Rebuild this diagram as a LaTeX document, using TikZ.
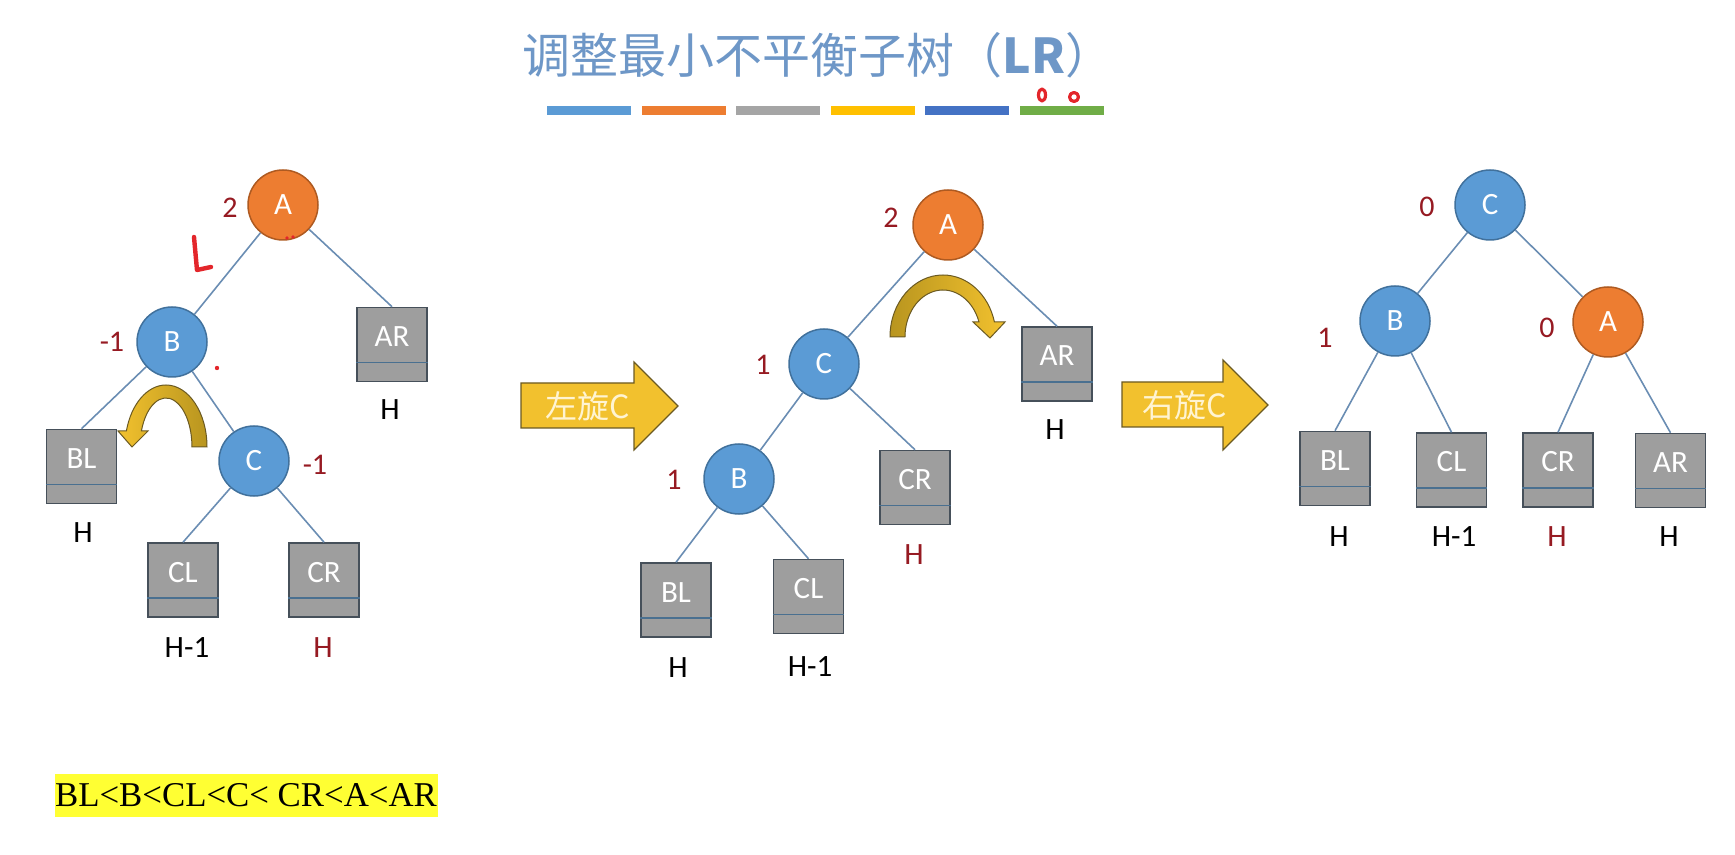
\documentclass[tikz,border=0pt]{standalone}
\usepackage{fontspec}
\usepackage{tikz}
\usetikzlibrary{calc}
\setmainfont{Carlito}
\newfontfamily\cjk{Noto Sans CJK SC}
\newfontfamily\timesf{Liberation Serif}

\definecolor{knotblue}{HTML}{5B9BD5}
\definecolor{knotline}{HTML}{41719C}
\definecolor{rootorange}{HTML}{ED7D31}
\definecolor{rootline}{HTML}{AE5A21}
\definecolor{boxgray}{HTML}{9E9E9E}
\definecolor{boxline}{HTML}{46505A}
\definecolor{dividercol}{HTML}{4A7090}
\definecolor{balred}{HTML}{961A22}
\definecolor{branchcol}{HTML}{6A8DB3}
\definecolor{arrowgold}{HTML}{F2C12E}
\definecolor{arrowdark}{HTML}{B8951F}
\definecolor{arrowline}{HTML}{6B5A22}
\definecolor{arrowtextcol}{HTML}{FFF4D2}
\definecolor{titleblue}{HTML}{6E97C7}
\definecolor{inkred}{HTML}{E3262B}
\definecolor{marker}{HTML}{FFFF33}
\definecolor{barA}{HTML}{5B9BD5}
\definecolor{barB}{HTML}{ED7D31}
\definecolor{barC}{HTML}{A5A5A5}
\definecolor{barD}{HTML}{FFC000}
\definecolor{barE}{HTML}{4472C4}
\definecolor{barF}{HTML}{70AD47}

\begin{document}
\begin{tikzpicture}[x=0.5pt,y=0.5pt,yscale=-1,
  knot/.style={circle,draw=knotline,fill=knotblue,line width=0.75pt,minimum size=35pt,inner sep=0pt,text=white,font=\fontsize{15.5}{18}\selectfont},
  rootknot/.style={knot,draw=rootline,fill=rootorange},
  subtree/.style={rectangle,draw=boxline,fill=boxgray,line width=0.75pt,minimum width=35pt,minimum height=37pt,inner sep=0pt,text=white,text height=10pt,text depth=8pt,font=\fontsize{15.5}{18}\selectfont},
  divider/.style={draw=dividercol,line width=0.75pt},
  bal/.style={inner sep=0pt,text=balred,font=\fontsize{15}{18}\selectfont},
  hgt/.style={inner sep=0pt,font=\fontsize{15.5}{18}\selectfont},
  hgtred/.style={hgt,text=balred},
  branch/.style={draw=branchcol,line width=0.8pt},
  turn/.style={draw=arrowline,line width=0.5pt},
  bigarrow/.style={fill=arrowgold,draw=arrowline,line width=0.6pt},
  arrowtext/.style={inner sep=0pt,text=arrowtextcol,font=\cjk\fontsize{16}{18}\selectfont},
  scribble/.style={draw=inkred,line width=2.2pt,line cap=round,line join=round}]
\useasboundingbox (0,0) rectangle (1735,855);

% Title
\node[inner sep=0pt,text=titleblue,font=\cjk\fontsize{24}{28}\selectfont] (title) at (818,55) {调整最小不平衡子树（{\bfseries LR}）};
\foreach \c [count=\i from 0] in {barA,barB,barC,barD,barE,barF}
  \fill[\c] (547+94.5*\i,106) rectangle ++(84,9);
\draw[scribble,line width=1.6pt] (1042,95) ellipse [x radius=3.5,y radius=6];
\draw[scribble,line width=1.6pt] (1074,97) ellipse [x radius=4.5,y radius=4.5];

%Tree 1 : before rotation
\node[rootknot] (A1) at (283,205) {A};
\node[knot] (B1) at (172,342) {B};
\node[knot] (C1) at (254,461) {C};
\node[subtree] (AR1) at (392,344.5) {AR};
\node[subtree] (BL1) at (81.5,466.5) {BL};
\node[subtree] (CL1) at (183,580) {CL};
\node[subtree] (CR1) at (324,580) {CR};
\draw[branch] (A1) -- (B1);
\draw[branch] (A1) -- (AR1.north);
\draw[branch] (B1) -- (BL1.north);
\draw[branch] (B1) -- (C1);
\draw[branch] (C1) -- (CL1.north);
\draw[branch] (C1) -- (CR1.north);
% Text Node
\node[bal] (fA1) at (230,208) {2};
\node[bal] (fB1) at (112,342) {-1};
\node[bal] (fC1) at (315,465) {-1};
\node[hgt] (hAR1) at (390,410) {H};
\node[hgt] (hBL1) at (83,533) {H};
\node[hgt] (hCL1) at (187,648) {H-1};
\node[hgtred] (hCR1) at (323,648) {H};
%Shape: curved arrow
\draw[turn,left color=arrowgold,right color=arrowdark] (207,447) arc[start angle=0,end angle=-165,x radius=41,y radius=62]
  -- (118,431) -- (132,447) -- (148,431) -- (141.4,431)
  arc[start angle=-160.94,end angle=0,x radius=26,y radius=49] -- cycle;
% marks
\draw[scribble] (194,237) -- (197,270) -- (211,267);
\fill[inkred] (287,238) circle (1.8) (293,237) circle (1.8) (217,368) circle (2.2);

%Arrow 1
\draw[bigarrow] (521,383) -- (634,383) -- (634,362) -- (678,406) -- (634,450) -- (634,428) -- (521,428) -- cycle;
\node[arrowtext] (rotL) at (588,406) {左旋C};

%Tree 2 : after left rotation
\node[rootknot] (A2) at (948,225) {A};
\node[knot] (C2) at (824,364) {C};
\node[knot] (B2) at (739,479) {B};
\node[subtree] (AR2) at (1057,364) {AR};
\node[subtree] (CR2) at (915,487.5) {CR};
\node[subtree] (BL2) at (676,600) {BL};
\node[subtree] (CL2) at (808.5,596.5) {CL};
\draw[branch] (A2) -- (C2);
\draw[branch] (A2) -- (AR2.north);
\draw[branch] (C2) -- (B2);
\draw[branch] (C2) -- (CR2.north);
\draw[branch] (B2) -- (BL2.north);
\draw[branch] (B2) -- (CL2.north);
% Text Node
\node[bal] (fA2) at (891,218) {2};
\node[bal] (fC2) at (763,365) {1};
\node[bal] (fB2) at (674,480) {1};
\node[hgt] (hAR2) at (1055,430) {H};
\node[hgtred] (hCR2) at (914,555) {H};
\node[hgt] (hBL2) at (678,668) {H};
\node[hgt] (hCL2) at (810,667) {H-1};
%Shape: curved arrow
\draw[turn,left color=arrowdark,right color=arrowgold] (890,337) arc[start angle=-180,end angle=-14,x radius=53,y radius=62]
  -- (1005,322) -- (990,338) -- (973,322) -- (979,322)
  arc[start angle=-18.6,end angle=-180,x radius=38,y radius=47] -- cycle;

%Arrow 2
\draw[bigarrow] (1122,382) -- (1223,382) -- (1223,360) -- (1268,405) -- (1223,450) -- (1223,427) -- (1122,427) -- cycle;
\node[arrowtext] (rotR) at (1185,405) {右旋C};

%Tree 3 : after right rotation
\node[knot] (C3) at (1490,205) {C};
\node[knot] (B3) at (1395,321) {B};
\node[rootknot] (A3) at (1608,322) {A};
\node[subtree] (BL3) at (1335,468.5) {BL};
\node[subtree] (CL3) at (1451.5,470) {CL};
\node[subtree] (CR3) at (1558,470) {CR};
\node[subtree] (AR3) at (1670.5,470.5) {AR};
\draw[branch] (C3) -- (B3);
\draw[branch] (C3) -- (A3);
\draw[branch] (B3) -- (BL3.north);
\draw[branch] (B3) -- (CL3.north);
\draw[branch] (A3) -- (CR3.north);
\draw[branch] (A3) -- (AR3.north);
% Text Node
\node[bal] (fC3) at (1427,207) {0};
\node[bal] (fB3) at (1325,338) {1};
\node[bal] (fA3) at (1547,328) {0};
\node[hgt] (hBL3) at (1339,537) {H};
\node[hgt] (hCL3) at (1454,537) {H-1};
\node[hgtred] (hCR3) at (1557,537) {H};
\node[hgt] (hAR3) at (1669,537) {H};

% box dividers
\foreach \b in {AR1,BL1,CL1,CR1,AR2,CR2,BL2,CL2,BL3,CL3,CR3,AR3}
  \draw[divider] ($(\b.south west)!0.26!(\b.north west)$) -- ($(\b.south east)!0.26!(\b.north east)$);

% Order
\node[fill=marker,minimum width=191.5pt,minimum height=21.5pt,inner sep=0pt,font=\timesf\fontsize{17.4}{20}\selectfont] (order) at (246,795) {BL<B<CL<C< CR<A<AR};

\end{tikzpicture}
\end{document}
